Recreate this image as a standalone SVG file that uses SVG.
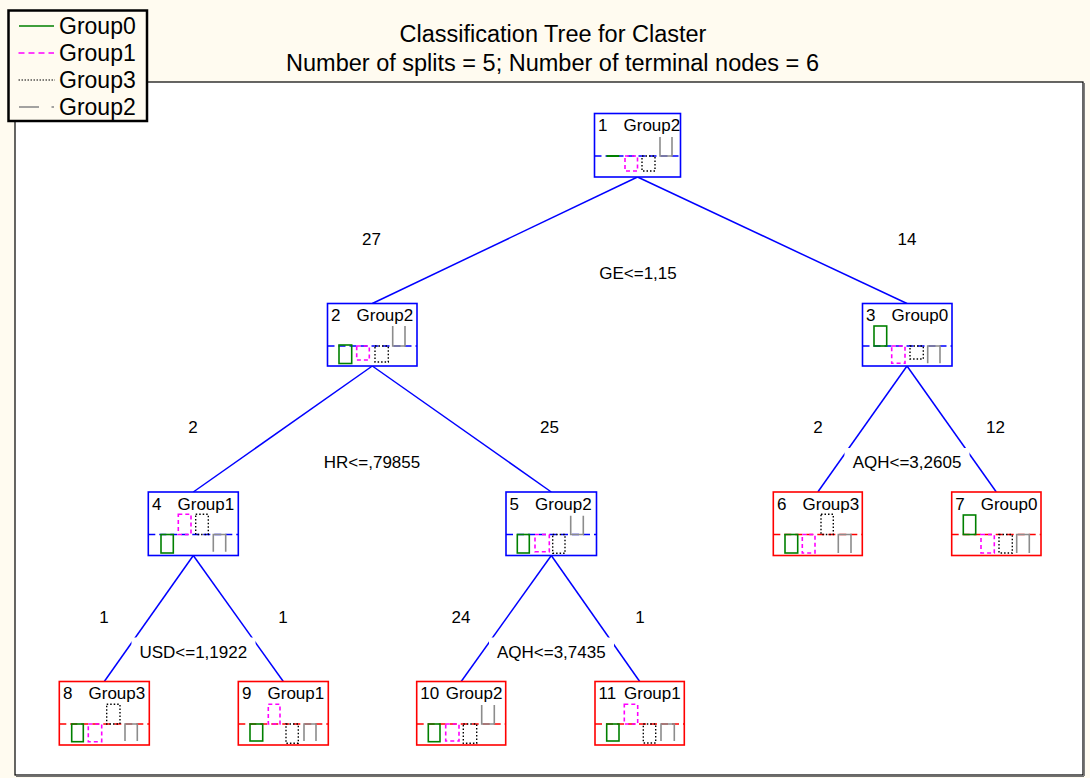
<svg xmlns="http://www.w3.org/2000/svg" width="1090" height="778" viewBox="0 0 1090 778">
<style>
text{font-family:"Liberation Sans",Arial,sans-serif;fill:#000}
.nt{font-size:17px}
.lb{font-size:17px;text-anchor:middle}
.box-i{fill:#fff;stroke:#0000ff;stroke-width:1.6}
.box-t{fill:#fff;stroke:#ff0000;stroke-width:1.6}
.bl-i{stroke:#0000ff;stroke-width:1.4;stroke-dasharray:7 4}
.bl-t{stroke:#ff0000;stroke-width:1.4;stroke-dasharray:7 4}
.g0{fill:none;stroke:#008000;stroke-width:1.6}
.g1{fill:none;stroke:#ff00ff;stroke-width:1.6;stroke-dasharray:4 3}
.g3{fill:none;stroke:#000;stroke-width:1.4;stroke-dasharray:1.5 2}
.g2{fill:none;stroke:#8c8c8c;stroke-width:1.6}
.cn{stroke:#0000ff;stroke-width:1.5;fill:none}
.lbg{fill:#fff;stroke:none}
</style>
<rect x="0" y="0" width="1090" height="778" fill="#fffbf0"/>
<rect x="15" y="82" width="1068" height="693" fill="#fff" stroke="#000" stroke-width="1.2"/>
<line x1="16" y1="776.3" x2="1084" y2="776.3" stroke="#707070" stroke-width="1.6"/>
<line x1="1084.3" y1="83" x2="1084.3" y2="776" stroke="#707070" stroke-width="1.2"/>
<g id="title">
<text x="553" y="41.5" text-anchor="middle" style="font-size:23.5px">Classification Tree for Claster</text>
<text x="552.5" y="71" text-anchor="middle" style="font-size:23.5px">Number of splits = 5; Number of terminal nodes = 6</text>
</g>
<g id="legend">
<rect x="8.5" y="10.5" width="138.5" height="110.5" fill="#fffbf0" stroke="#000" stroke-width="2.5"/>
<line x1="19" y1="26" x2="54" y2="26" stroke="#008000" stroke-width="1.6"/>
<line x1="18.5" y1="53" x2="54" y2="53" stroke="#ff00ff" stroke-width="1.6" stroke-dasharray="6 4"/>
<line x1="18.5" y1="80" x2="55" y2="80" stroke="#000" stroke-width="1.2" stroke-dasharray="1.5 1.5"/>
<line x1="19" y1="107" x2="39" y2="107" stroke="#8c8c8c" stroke-width="1.6"/>
<line x1="51.5" y1="107" x2="54" y2="107" stroke="#8c8c8c" stroke-width="1.6"/>
<text x="59" y="34" style="font-size:23px">Group0</text>
<text x="59" y="61" style="font-size:23px">Group1</text>
<text x="59" y="88" style="font-size:23px">Group3</text>
<text x="59" y="115" style="font-size:23px">Group2</text>
</g>
<g id="connectors">
<line class="cn" x1="637.5" y1="177" x2="372.3" y2="303.5"/>
<line class="cn" x1="637.5" y1="177" x2="907" y2="303.5"/>
<line class="cn" x1="372.3" y1="366" x2="193.3" y2="492"/>
<line class="cn" x1="372.3" y1="366" x2="551.3" y2="492"/>
<line class="cn" x1="907" y1="366" x2="817.8" y2="492"/>
<line class="cn" x1="907" y1="366" x2="996.3" y2="492"/>
<line class="cn" x1="193.3" y1="555.5" x2="104.3" y2="681.5"/>
<line class="cn" x1="193.3" y1="555.5" x2="283.3" y2="681.5"/>
<line class="cn" x1="551.3" y1="555.5" x2="461.2" y2="681.5"/>
<line class="cn" x1="551.3" y1="555.5" x2="639.7" y2="681.5"/>
</g>
<g id="labels">
<text class="lb" x="371.5" y="244.5">27</text>
<text class="lb" x="907" y="244.5">14</text>
<text class="lb" x="638" y="278.5">GE&lt;=1,15</text>
<text class="lb" x="193" y="433">2</text>
<text class="lb" x="549.5" y="433">25</text>
<text class="lb" x="372" y="468">HR&lt;=,79855</text>
<text class="lb" x="818" y="433">2</text>
<text class="lb" x="995.5" y="433">12</text>
<rect class="lbg" x="844.5" y="448" width="125" height="28"/>
<text class="lb" x="907" y="468">AQH&lt;=3,2605</text>
<text class="lb" x="104" y="622.5">1</text>
<text class="lb" x="283" y="622.5">1</text>
<rect class="lbg" x="131.5" y="637.5" width="124" height="28"/>
<text class="lb" x="193.3" y="657.5">USD&lt;=1,1922</text>
<text class="lb" x="461" y="622.5">24</text>
<text class="lb" x="640" y="622.5">1</text>
<rect class="lbg" x="489" y="637.5" width="125" height="28"/>
<text class="lb" x="551.3" y="657.5">AQH&lt;=3,7435</text>
</g>
<g id="node1">
<rect class="box-i" x="594.5" y="113.5" width="86" height="63.5"/>
<line class="bl-i" x1="594.5" y1="156" x2="680.5" y2="156"/>
<text class="nt" x="598" y="131">1</text><text class="nt" x="623.5" y="131">Group2</text>
<line x1="606.5" y1="156" x2="619.3" y2="156" stroke="#008000" stroke-width="2"/>
<rect class="g1" x="625" y="156" width="12.5" height="15"/>
<rect class="g3" x="642" y="156" width="13" height="15"/>
<path class="g2" d="M660,137V156H672V137"/>
</g>
<g id="node2">
<rect class="box-i" x="327.5" y="303.5" width="89.5" height="62.5"/>
<line class="bl-i" x1="327.5" y1="346" x2="417" y2="346"/>
<text class="nt" x="331" y="321">2</text><text class="nt" x="356.5" y="321">Group2</text>
<rect class="g0" x="339" y="345" width="12.7" height="18.5"/>
<rect class="g1" x="356.7" y="346" width="12.6" height="14"/>
<rect class="g3" x="375" y="346" width="13.3" height="16"/>
<path class="g2" d="M392.7,326V346H405V326"/>
</g>
<g id="node3">
<rect class="box-i" x="862.5" y="303.5" width="89.5" height="62.5"/>
<line class="bl-i" x1="862.5" y1="346" x2="952" y2="346"/>
<text class="nt" x="866" y="321">3</text><text class="nt" x="891.5" y="321">Group0</text>
<rect class="g0" x="874" y="326" width="12.7" height="20"/>
<rect class="g1" x="891.7" y="346" width="13.3" height="17.3"/>
<rect class="g3" x="910" y="346" width="13.3" height="13"/>
<path class="g2" d="M927.7,363.3V346H940V363.3"/>
</g>
<g id="node4">
<rect class="box-i" x="148.3" y="492" width="90" height="63.5"/>
<line class="bl-i" x1="148.3" y1="534.5" x2="238.3" y2="534.5"/>
<text class="nt" x="152" y="509.5">4</text><text class="nt" x="177.5" y="509.5">Group1</text>
<rect class="g0" x="161" y="534.5" width="12.3" height="18.5"/>
<rect class="g1" x="178.3" y="514.3" width="12.7" height="20.2"/>
<rect class="g3" x="195.7" y="514.3" width="12.6" height="20.2"/>
<path class="g2" d="M213.3,551.7V534.5H225.7V551.7"/>
</g>
<g id="node5">
<rect class="box-i" x="506" y="492" width="90.5" height="63.5"/>
<line class="bl-i" x1="506" y1="534.5" x2="596.5" y2="534.5"/>
<text class="nt" x="509.5" y="509.5">5</text><text class="nt" x="535" y="509.5">Group2</text>
<rect class="g0" x="517.3" y="534.5" width="12" height="18.5"/>
<rect class="g1" x="535" y="534.5" width="14.3" height="17.2"/>
<rect class="g3" x="552.7" y="534.5" width="12.3" height="18.8"/>
<path class="g2" d="M570.7,515.7V534.5H583.3V515.7"/>
</g>
<g id="node6">
<rect class="box-t" x="773.3" y="492" width="89" height="63.5"/>
<line class="bl-t" x1="773.3" y1="534.5" x2="862.3" y2="534.5"/>
<text class="nt" x="777" y="509.5">6</text><text class="nt" x="802.5" y="509.5">Group3</text>
<rect class="g0" x="785" y="534.5" width="12.7" height="18.5"/>
<rect class="g1" x="802.3" y="534.5" width="12.7" height="18.5"/>
<rect class="g3" x="821" y="514.3" width="12.3" height="20.2"/>
<path class="g2" d="M838.3,553V534.5H851V553"/>
</g>
<g id="node7">
<rect class="box-t" x="951.7" y="492" width="89.3" height="63.5"/>
<line class="bl-t" x1="951.7" y1="534.5" x2="1041" y2="534.5"/>
<text class="nt" x="955.3" y="509.5">7</text><text class="nt" x="980.7" y="509.5">Group0</text>
<rect class="g0" x="963.3" y="515" width="12.4" height="19.5"/>
<rect class="g1" x="981" y="534.5" width="13.3" height="18.5"/>
<rect class="g3" x="999" y="534.5" width="13.3" height="18.5"/>
<path class="g2" d="M1016.7,553V534.5H1029.3V553"/>
</g>
<g id="node8">
<rect class="box-t" x="59.3" y="681.5" width="90" height="63.5"/>
<line class="bl-t" x1="59.3" y1="724" x2="149.3" y2="724"/>
<text class="nt" x="63" y="699">8</text><text class="nt" x="88.5" y="699">Group3</text>
<rect class="g0" x="71.7" y="724" width="11.6" height="17.7"/>
<rect class="g1" x="88.3" y="724" width="13.4" height="17.7"/>
<rect class="g3" x="106.7" y="704.3" width="13.3" height="19.7"/>
<path class="g2" d="M125,741V724H137.3V741"/>
</g>
<g id="node9">
<rect class="box-t" x="238.3" y="681.5" width="90" height="63.5"/>
<line class="bl-t" x1="238.3" y1="724" x2="328.3" y2="724"/>
<text class="nt" x="242" y="699">9</text><text class="nt" x="267.5" y="699">Group1</text>
<rect class="g0" x="250" y="724" width="12.7" height="17"/>
<rect class="g1" x="268.3" y="704.3" width="11.7" height="19.7"/>
<rect class="g3" x="286" y="724" width="12.3" height="19.3"/>
<path class="g2" d="M304,741V724H316V741"/>
</g>
<g id="node10">
<rect class="box-t" x="416.7" y="681.5" width="89" height="63.5"/>
<line class="bl-t" x1="416.7" y1="724" x2="505.7" y2="724"/>
<text class="nt" x="420.2" y="699">10</text><text class="nt" x="445.7" y="699">Group2</text>
<rect class="g0" x="428.3" y="724" width="11.7" height="17.7"/>
<rect class="g1" x="445.7" y="724" width="13.3" height="17"/>
<rect class="g3" x="463.3" y="724" width="13.4" height="19.3"/>
<path class="g2" d="M481.7,705V724H494.3V705"/>
</g>
<g id="node11">
<rect class="box-t" x="595" y="681.5" width="89.3" height="63.5"/>
<line class="bl-t" x1="595" y1="724" x2="684.3" y2="724"/>
<text class="nt" x="598.5" y="699">11</text><text class="nt" x="624" y="699">Group1</text>
<rect class="g0" x="606.7" y="724" width="12.3" height="17"/>
<rect class="g1" x="624.3" y="704.3" width="13.4" height="19.7"/>
<rect class="g3" x="643.3" y="724" width="12.4" height="19"/>
<path class="g2" d="M661,741V724H674.3V741"/>
</g>
</svg>
